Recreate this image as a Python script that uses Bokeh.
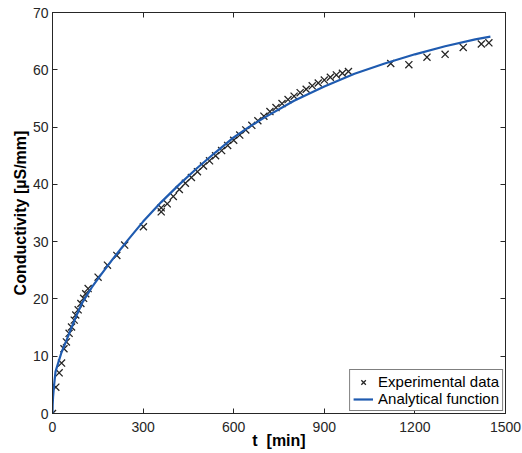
from bokeh.plotting import figure
from bokeh.models import LinearAxis, FixedTicker, Legend, LegendItem, Range1d
from bokeh.embed import file_html
from bokeh.resources import INLINE

# Experimental data
exp_t = [0, 11, 22, 30, 38, 46, 55, 63, 72, 77, 85, 94, 103, 110, 118, 151, 182, 213, 239, 301,
         360, 360, 380, 400, 420, 440, 460, 480, 500, 520, 540, 560, 580, 600, 620, 640, 660,
         680, 700, 720, 740, 760, 780, 800, 820, 840, 860, 880, 900, 920, 940, 960, 980,
         1120, 1180, 1240, 1300, 1360, 1420, 1445]
exp_c = [0, 4.6, 7.1, 8.8, 11.3, 12.5, 14.0, 15.1, 16.3, 17.2, 18.1, 19.2, 20.1, 20.9, 21.8, 23.8, 25.9, 27.6, 29.4, 32.6,
         35.2, 35.9, 36.6, 37.9, 39.1, 40.2, 41.2, 42.2, 43.2, 44.1, 45.0, 45.9, 46.8, 47.7, 48.6, 49.5, 50.3,
         51.1, 51.9, 52.7, 53.4, 54.1, 54.8, 55.4, 56.0, 56.6, 57.2, 57.7, 58.2, 58.7, 59.1, 59.4, 59.7,
         61.1, 60.9, 62.2, 62.7, 63.9, 64.5, 64.7]

# Analytical function
fun_t = [0, 0.5, 2, 5, 10, 20, 30, 45, 60, 80, 100, 130, 160, 200, 250, 300, 360, 420, 480, 540,
         600, 650, 700, 800, 900, 1000, 1100, 1200, 1300, 1400, 1450]
fun_c = [0, 1.5, 3.0, 4.8, 7.3, 9.0, 10.7, 12.6, 14.6, 17.2, 19.5, 22.0, 24.2, 27.0, 30.3, 33.5, 36.9, 40.0, 42.9, 45.6,
         48.2, 50.0, 51.6, 54.6, 57.1, 59.3, 61.1, 62.7, 64.1, 65.3, 65.8]

x_ticks = [0, 300, 600, 900, 1200, 1500]
y_ticks = [0, 10, 20, 30, 40, 50, 60, 70]

FONT = "Liberation Sans"
TXT = "#262626"

p = figure(width=522, height=453, output_backend="svg", toolbar_location=None,
           x_range=Range1d(0, 1500), y_range=Range1d(0, 70),
           min_border_left=52, min_border_right=17, min_border_top=12, min_border_bottom=40,
           x_axis_label="t\u00a0\u00a0[min]", y_axis_label="Conductivity [\u00b5S/mm]")
p.grid.visible = False
p.outline_line_color = "black"
p.outline_line_width = 1
p.background_fill_color = "white"
p.border_fill_color = "white"

for ax, ticks in ((p.xaxis[0], x_ticks), (p.yaxis[0], y_ticks)):
    ax.ticker = FixedTicker(ticks=ticks)
    ax.major_tick_in = 5
    ax.major_tick_out = 0
    ax.minor_tick_line_color = None
    ax.axis_line_color = TXT
    ax.major_tick_line_color = TXT
    ax.major_label_text_font = FONT
    ax.major_label_text_font_size = "14px"
    ax.major_label_text_color = TXT
    ax.axis_label_text_font = FONT
    ax.axis_label_text_font_size = "16px"
    ax.axis_label_text_font_style = "bold"
    ax.axis_label_text_color = "black"

p.xaxis[0].major_label_standoff = 8
p.xaxis[0].axis_label_standoff = -3
p.yaxis[0].major_label_standoff = 4
p.yaxis[0].axis_label_standoff = 1

for loc, ticks in (("above", x_ticks), ("right", y_ticks)):
    ax = LinearAxis(ticker=FixedTicker(ticks=ticks),
                    major_label_overrides={t: "" for t in ticks},
                    major_tick_in=5, major_tick_out=0, minor_tick_line_color=None,
                    major_label_standoff=0, axis_line_color=TXT, major_tick_line_color=TXT)
    p.add_layout(ax, loc)

r_exp = p.scatter(exp_t, exp_c, marker="x", size=10, line_color="#262626", line_width=1.3)
r_fun = p.line(fun_t, fun_c, line_color="#1f5bb0", line_width=2.2)

legend = Legend(items=[LegendItem(label="Experimental data", renderers=[r_exp]),
                       LegendItem(label="Analytical function", renderers=[r_fun])],
                location="bottom_right", margin=2, padding=3, spacing=0,
                label_text_font=FONT, label_text_font_size="15px", label_text_color="black",
                label_height=16, glyph_height=16, glyph_width=20, label_standoff=5,
                border_line_color="black", border_line_width=1, background_fill_alpha=1)
p.add_layout(legend)

open("out.html", "w").write(file_html(p, INLINE))
